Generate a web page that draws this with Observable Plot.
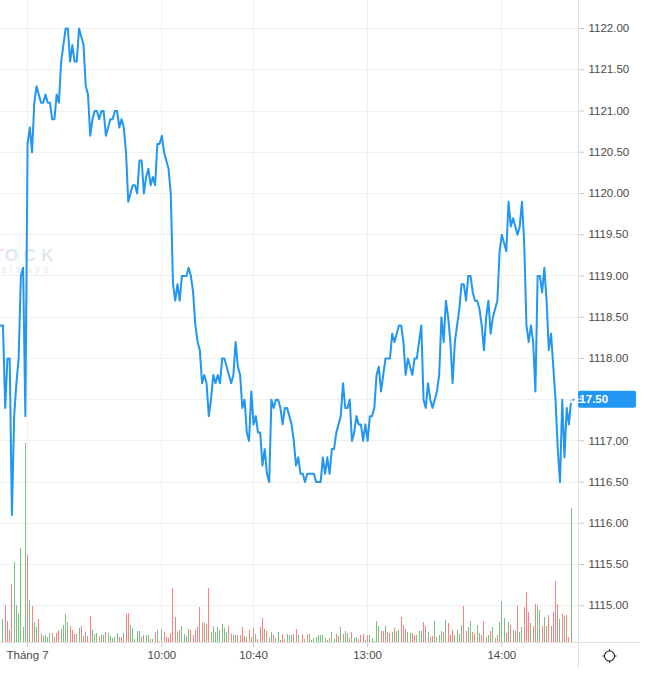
<!DOCTYPE html>
<html lang="vi">
<head>
<meta charset="utf-8">
<style>html,body{margin:0;padding:0;background:#fff}svg{display:block}</style>
<script src="https://cdn.jsdelivr.net/npm/d3@7"></script>
<script src="https://cdn.jsdelivr.net/npm/@observablehq/plot@0.6"></script>
</head>
<body>
<div id="chart"></div>
<script>
const pricesMorning = [1118.4,1118.4,1117.4,1118,1118,1116.1,1117.3,1117.7,1118,1119,1119.1,1117.3,1120.6,1120.8,1120.5,1121.1,1121.3,1121.2,1121.1,1121.1,1121.2,1121.1,1121.1,1120.9,1120.9,1121.2,1121.1,1121.6,1121.8,1122,1122,1121.6,1121.8,1121.6,1121.6,1122,1121.9,1121.8,1121.3,1121.2,1120.7,1120.9,1121,1121,1120.9,1121,1121,1120.7,1120.8,1120.9,1120.9,1121,1121,1120.8,1120.9,1120.8,1120.5,1119.9,1120,1120.1,1120.1,1120,1120.4,1120.4,1120,1120.2,1120.3,1120.1,1120.2,1120.1,1120.6,1120.6,1120.7,1120.5,1120.4,1120.3,1120,1118.9,1118.7,1118.9,1118.7,1119,1119,1119,1119.1,1119,1118.8,1118.4,1118.2,1118.1];
const pricesMidday = [1117.7,1117.8,1117.7,1117.3,1117.5,1117.8,1117.7,1117.8,1117.7,1118,1118,1117.9,1117.8,1117.7,1117.8,1118.2,1117.9,1117.8,1117.4,1117.5,1117.1,1117,1117.6,1117.2,1117.3,1117.1,1117.1,1116.7,1116.9,1116.6,1116.5,1117.5,1117.4,1117.5,1117.5,1117.4,1117.2,1117.4,1117.4,1117.3,1117.2,1117,1116.7,1116.8,1116.6,1116.6,1116.5,1116.6,1116.6,1116.6,1116.6,1116.5,1116.5,1116.5,1116.8,1116.6,1116.8,1116.6,1116.9,1116.9,1117.1,1117.2,1117.3,1117.7,1117.4,1117.4,1117.5,1117,1117.1,1117.3,1117.2,1117.2,1117,1117.2,1117,1117.3,1117.3,1117.4,1117.8,1117.9,1117.6,1117.8,1118,1118,1118,1118.3,1118.2,1118.3,1118.4];
const pricesAfternoon = [1118.4,1118.2,1117.8,1118,1117.9,1117.8,1118,1118,1118.2,1118.4,1117.5,1117.4,1117.7,1117.5,1117.4,1117.5,1117.6,1117.8,1118.5,1118.2,1118.7,1118.5,1118.2,1117.7,1118.2,1118.4,1118.6,1118.9,1118.9,1118.7,1119,1119,1118.8,1118.7,1118.7,1118.6,1118.4,1118.1,1118.5,1118.7,1118.3,1118.5,1118.6,1118.7,1119.3,1119.5,1119.4,1119.3,1119.9,1119.6,1119.7,1119.6,1119.5,1119.6,1119.9,1119.4,1118.4,1118.2,1118.4,1118.2,1117.6,1119,1119,1118.8,1119.1,1118.7,1118.1,1118.3,1117.9,1117.5,1116.9,1116.5,1117.5,1116.8,1117.4,1117.2,1117.5,1117.5];

const volumesMorning = [0,69,111,63,36,174,240,111,84,282,45,597,261,126,108,60,45,69,24,18,21,15,27,27,15,27,36,39,51,84,60,48,36,24,24,42,48,18,30,18,78,36,24,27,18,24,21,30,27,18,12,15,27,15,15,27,84,87,51,42,9,33,33,15,21,21,21,9,9,30,36,3,39,30,15,12,27,162,75,30,36,48,24,18,39,36,21,36,45,105];
const volumesMidday = [60,57,54,162,30,48,30,45,36,54,42,30,48,24,21,21,21,21,45,18,15,36,15,42,24,9,45,72,39,33,12,30,21,12,30,6,24,9,24,21,21,24,39,21,0,24,9,24,24,6,12,15,21,21,21,12,6,12,30,9,24,18,45,24,33,27,12,30,12,15,9,21,24,6,21,21,12,3,63,48,33,33,48,30,27,30,42,33,36];
const volumesAfternoon = [75,51,39,30,27,27,21,21,33,33,60,48,30,15,18,63,15,21,33,30,66,57,21,36,21,36,24,51,108,33,45,63,30,24,51,27,21,63,15,21,33,45,12,21,60,123,72,27,60,51,36,33,108,30,45,105,150,90,57,48,114,111,96,48,75,48,81,48,90,183,114,69,84,78,81,15,402];

const sidesMorning = "GGRRRRGGGGGGRGRGGRRGGGGRGRRGGGGRRRGGRGRRRGGGRGGRGGGGGRRGRRGGGGGGRGGRGRGRGRRRRRRGRGGGGRRRRR";
const sidesMidday = "RGRRGGGGGGGGRRGGRRRGRRGRGRRRGRGGRGGRRGGGGRRGGRGRGGGGGGGGGRGGRGGGRGGRGGRRRGRGGGGGRRGRRGRGG";
const sidesAfternoon = "RRRGGRRGGGRRGRRGGGGRGRRRGGGGRRGGRRGGRRGGRGGRGGGRGRGRRGGRRRGRRGGRGRRGRRRGRGRRG";

const priceTicks = [1115,1115.5,1116,1116.5,1117,1117.5,1118,1118.5,1119,1119.5,1120,1120.5,1121,1121.5,1122];
const timeTicks = [12,72,113,164,224];
const timeLabels = ["Tháng 7","10:00","10:40","13:00","14:00"];
const lastPrice = 1117.5;

const PRICE_FLOOR = 1114.555;
const PRICE_TOP = 1122.34;
const VOLUME_TO_PRICE = 1 / 247.4;

const prices = [...pricesMorning, ...pricesMidday, ...pricesAfternoon];
const volumes = [...volumesMorning, ...volumesMidday, ...volumesAfternoon];
const sides = sidesMorning + sidesMidday + sidesAfternoon;

const lineData = prices.map((price, i) => ({i, price}));
const barData = volumes.map((volume, i) => ({i, volume, side: sides[i]}));
const upBars = barData.filter(d => d.side === "G");
const downBars = barData.filter(d => d.side === "R");

const FONT = "'Liberation Sans', Arial, sans-serif";
const svgNS = "http://www.w3.org/2000/svg";

function el(tag, attrs, text) {
  const n = document.createElementNS(svgNS, tag);
  for (const k in attrs) n.setAttribute(k, attrs[k]);
  if (text !== undefined) n.textContent = text;
  return n;
}

// Watermark, sitting under the price line.
function watermark() {
  const g = el("g", {"font-family": FONT});
  g.append(el("text", {x: -1, y: 261, "font-size": 17, "font-weight": 700, fill: "#fbdcdc", textLength: 14}, "T"));
  g.append(el("text", {x: 13, y: 261, "font-size": 17, "font-weight": 700, fill: "#dfe8f2", textLength: 81, lengthAdjust: "spacing"}, "STOCK"));
  g.append(el("text", {x: 5, y: 273, "font-size": 10, fill: "#e9e9e9", textLength: 87, lengthAdjust: "spacing"}, "resh always"));
  return g;
}

// Chart borders, last-price tag and settings icon, placed from the scales.
function overlay(index, scales, values, dims) {
  const g = el("g", {"font-family": FONT});
  const right = dims.width - dims.marginRight;
  const bottom = dims.height - dims.marginBottom;
  g.append(el("line", {x1: right + 0.5, x2: right + 0.5, y1: 0, y2: 668, stroke: "#dfdfdf"}));
  g.append(el("line", {x1: 0, x2: 640, y1: bottom + 0.5, y2: bottom + 0.5, stroke: "#dfdfdf"}));
  const py = scales.y(lastPrice);
  g.append(el("rect", {x: right, y: py - 8.5, width: 58, height: 17, rx: 2, fill: "#2196f3"}));
  g.append(el("line", {x1: right, x2: right + 5, y1: py, y2: py, stroke: "#fff"}));
  g.append(el("text", {x: 588, y: py + 4.2, "font-size": 11.5, "font-weight": 700, fill: "#fff"}, lastPrice.toFixed(2)));
  const sun = el("g", {transform: "translate(609.5 656)", stroke: "#1e222d", fill: "none"});
  sun.append(el("circle", {r: 5, "stroke-width": 1.1}));
  for (const [x1, y1, x2, y2] of [[0,-5,0,-7],[0,5,0,7],[-5,0,-7,0],[5,0,7,0]]) {
    sun.append(el("line", {x1, y1, x2, y2, "stroke-width": 1.1}));
  }
  g.append(sun);
  return g;
}

const plot = Plot.plot({
  width: 646,
  height: 676,
  marginLeft: 0,
  marginRight: 68,
  marginTop: 0,
  marginBottom: 34,
  style: {background: "#fff", fontFamily: FONT, fontSize: "11.5px", color: "#4a4a4a", overflow: "visible"},
  x: {type: "linear", domain: [-0.107, 258.27], range: [0, 578]},
  y: {type: "linear", domain: [PRICE_FLOOR, PRICE_TOP], range: [642, 0]},
  marks: [
    Plot.ruleY(priceTicks, {stroke: "#f0f0f0", strokeWidth: 1, shapeRendering: "crispEdges"}),
    Plot.ruleX(timeTicks, {stroke: "#f0f0f0", strokeWidth: 1, shapeRendering: "crispEdges"}),
    watermark,
    Plot.ruleX(upBars, {x: "i", y1: PRICE_FLOOR, y2: d => PRICE_FLOOR + d.volume * VOLUME_TO_PRICE, stroke: "#7dbf80", strokeWidth: 1, shapeRendering: "crispEdges"}),
    Plot.ruleX(downBars, {x: "i", y1: PRICE_FLOOR, y2: d => PRICE_FLOOR + d.volume * VOLUME_TO_PRICE, stroke: "#ff8080", strokeWidth: 1, shapeRendering: "crispEdges"}),
    Plot.lineY(lineData, {x: "i", y: "price", stroke: "#2196f3", strokeWidth: 2, strokeLinejoin: "round", clip: false}),
    Plot.axisY({anchor: "right", ticks: priceTicks, tickFormat: d => d.toFixed(2), tickSize: 5, tickPadding: 5, stroke: "#c8c8c8", fill: "#4a4a4a", label: null}),
    Plot.axisX({anchor: "bottom", ticks: timeTicks, tickFormat: d => timeLabels[timeTicks.indexOf(d)], tickSize: 5, tickPadding: 3, stroke: "#c8c8c8", fill: "#4a4a4a", label: null}),
    overlay
  ]
});
document.getElementById("chart").append(plot);
</script>
</body>
</html>
